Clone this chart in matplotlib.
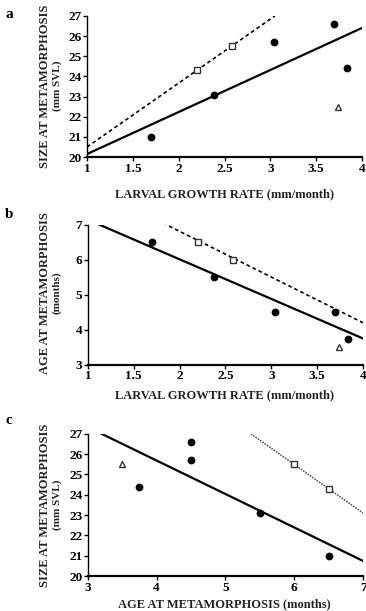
import matplotlib
matplotlib.use("Agg")
from matplotlib import pyplot as plt

plt.rcParams['font.family'] = ['Liberation Serif', 'DejaVu Serif']
plt.rcParams['font.weight'] = 'bold'

TICK_GROWTH = [1, 1.5, 2, 2.5, 3, 3.5, 4]
TICK_GROWTH_LABELS = ['1', '1.5', '2', '2.5', '3', '3.5', '4']

# growth rate / size / age per population, by symbol
growth_circ = [1.70, 2.38, 3.04, 3.69, 3.84]
size_circ = [21.0, 23.1, 25.7, 26.6, 24.4]
age_circ = [6.5, 5.5, 4.5, 4.5, 3.75]
growth_sq = [2.20, 2.58]
size_sq = [24.3, 25.5]
age_sq = [6.5, 6.0]
growth_tri = [3.74]
size_tri = [22.5]
age_tri = [3.5]
size_tri_c = [25.5]   # triangle as plotted in panel c

# regression lines (end points)
a_solid_x, a_solid_y = [1.0, 4.0], [20.15, 26.4]
a_dash_x, a_dash_y = [1.0, 3.05], [20.5, 27.0]
b_solid_x, b_solid_y = [1.13, 4.0], [7.0, 3.75]
b_dash_x, b_dash_y = [1.82, 4.0], [7.05, 4.2]
c_solid_x, c_solid_y = [3.2, 7.0], [27.0, 20.75]
c_dash_x, c_dash_y = [5.37, 7.0], [27.0, 23.1]

fig = plt.figure(figsize=(3.66, 6.11), dpi=100)

ax_a = fig.add_axes([0.238, 0.743, 0.751, 0.231])
ax_b = fig.add_axes([0.240, 0.403, 0.752, 0.229])
ax_c = fig.add_axes([0.240, 0.057, 0.752, 0.233])


def style(ax):
    for s in ['top', 'right']:
        ax.spines[s].set_visible(False)
    ax.spines['left'].set_linewidth(1.0)
    ax.spines['bottom'].set_linewidth(1.6)
    ax.tick_params(direction='out', length=3, width=1, labelsize=9.5, pad=1)
    for lab in ax.get_xticklabels() + ax.get_yticklabels():
        lab.set_fontweight('bold')


def points(ax, xc, yc, xs, ys, xt, yt):
    ax.plot(xc, yc, 'o', color='black', ms=4.6, clip_on=False)
    ax.plot(xs, ys, 's', mfc='white', mec='#333333', ms=4.6, mew=1.0, clip_on=False)
    ax.plot(xt, yt, '^', mfc='white', mec='#333333', ms=4.6, mew=1.0, clip_on=False)


# a
ax_a.plot(a_solid_x, a_solid_y, color='black', lw=1.6)
ax_a.plot(a_dash_x, a_dash_y, color='black', lw=1.2, ls=(0, (2.2, 1.8)))
points(ax_a, growth_circ, size_circ, growth_sq, size_sq, growth_tri, size_tri)
ax_a.set_xlim(1, 4)
ax_a.set_ylim(20, 27)
ax_a.set_xticks(TICK_GROWTH)
ax_a.set_xticklabels(TICK_GROWTH_LABELS)
ax_a.set_yticks(range(20, 28))
style(ax_a)

# b
ax_b.plot(b_solid_x, b_solid_y, color='black', lw=1.6)
ax_b.plot(b_dash_x, b_dash_y, color='black', lw=1.2, ls=(0, (2.2, 1.8)))
points(ax_b, growth_circ, age_circ, growth_sq, age_sq, growth_tri, age_tri)
ax_b.set_xlim(1, 4)
ax_b.set_ylim(3, 7)
ax_b.set_xticks(TICK_GROWTH)
ax_b.set_xticklabels(TICK_GROWTH_LABELS)
ax_b.set_yticks(range(3, 8))
style(ax_b)

# c
ax_c.plot(c_solid_x, c_solid_y, color='black', lw=1.6)
ax_c.plot(c_dash_x, c_dash_y, color='#444444', lw=1.0, ls=(0, (1.2, 0.8)))
points(ax_c, age_circ, size_circ, age_sq, size_sq, age_tri, size_tri_c)
ax_c.set_xlim(3, 7)
ax_c.set_ylim(20, 27)
ax_c.set_xticks(range(3, 8))
ax_c.set_yticks(range(20, 28))
style(ax_c)

# axis titles
xmid = 0.5 * (87 + 362) / 366
for ypix, txt in [(194, 'LARVAL GROWTH RATE (mm/month)'),
                  (395, 'LARVAL GROWTH RATE (mm/month)'),
                  (604, 'AGE AT METAMORPHOSIS (months)')]:
    fig.text(xmid, 1 - ypix / 611, txt, ha='center', va='center',
             fontsize=9, fontweight='bold', color='#222222')

for ycen, main, sub in [(86, 'SIZE AT METAMORPHOSIS', '(mm SVL)'),
                        (293, 'AGE AT METAMORPHOSIS', '(months)'),
                        (505, 'SIZE AT METAMORPHOSIS', '(mm SVL)')]:
    fig.text(45 / 366, 1 - ycen / 611, main, rotation=90, ha='center', va='center',
             fontsize=9, fontweight='bold', color='#222222')
    fig.text(57 / 366, 1 - ycen / 611, sub, rotation=90, ha='center', va='center',
             fontsize=8, fontweight='bold', color='#222222')

for ypix, letter in [(14, 'a'), (214, 'b'), (420, 'c')]:
    fig.text(5 / 366, 1 - ypix / 611, letter, ha='left', va='center',
             fontsize=11, fontweight='bold')

fig.savefig('out.png', dpi=100)
